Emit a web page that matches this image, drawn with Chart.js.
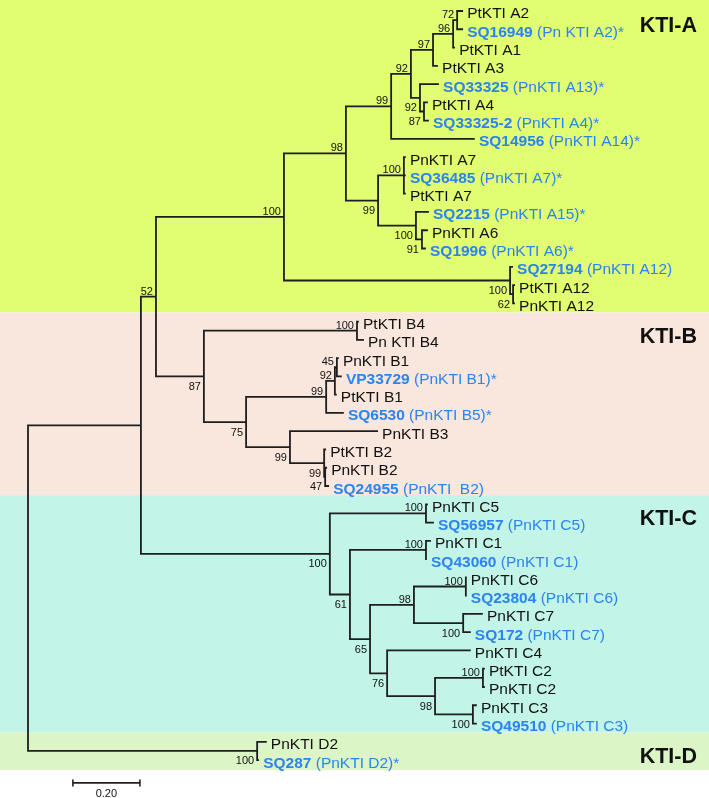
<!DOCTYPE html>
<html>
<head>
<meta charset="utf-8">
<script src="https://cdn.jsdelivr.net/npm/chart.js@4.4.1/dist/chart.umd.min.js"></script>
<style>
html, body { margin: 0; padding: 0; background: #fff; }
#wrap { width: 709px; height: 798px; position: relative; }
</style>
</head>
<body>
<div id="wrap"><canvas id="tree"></canvas></div>
<script>
// leaves, top to bottom
const leafLabels = [
    'PtKTI A2', 'SQ16949 (Pn KTI A2)*', 'PtKTI A1', 'PtKTI A3', 'SQ33325 (PnKTI A13)*',
    'PtKTI A4', 'SQ33325-2 (PnKTI A4)*', 'SQ14956 (PnKTI A14)*', 'PnKTI A7', 'SQ36485 (PnKTI A7)*',
    'PtKTI A7', 'SQ2215 (PnKTI A15)*', 'PnKTI A6', 'SQ1996 (PnKTI A6)*', 'SQ27194 (PnKTI A12)',
    'PtKTI A12', 'PnKTI A12',
    'PtKTI B4', 'Pn KTI B4', 'PnKTI B1', 'VP33729 (PnKTI B1)*', 'PtKTI B1', 'SQ6530 (PnKTI B5)*',
    'PnKTI B3', 'PtKTI B2', 'PnKTI B2', 'SQ24955 (PnKTI  B2)',
    'PnKTI C5', 'SQ56957 (PnKTI C5)', 'PnKTI C1', 'SQ43060 (PnKTI C1)', 'PnKTI C6', 'SQ23804 (PnKTI C6)',
    'PnKTI C7', 'SQ172 (PnKTI C7)', 'PnKTI C4', 'PtKTI C2', 'PnKTI C2', 'PnKTI C3', 'SQ49510 (PnKTI C3)',
    'PnKTI D2', 'SQ287 (PnKTI D2)*'
];
// internal node each leaf hangs from
const leafParent = [9, 9, 8, 7, 10, 11, 11, 5, 13, 13, 13, 14, 15, 15, 16, 17, 17,
    19, 19, 23, 23, 22, 21, 24, 25, 26, 26,
    28, 28, 30, 30, 33, 33, 34, 34, 35, 37, 37, 38, 38, 39, 39];
// distance of each tip from the root
const leafDist = [1.296, 1.296, 1.272, 1.221, 1.224, 1.191, 1.194, 1.331, 1.125, 1.125,
    1.125, 1.194, 1.191, 1.185, 1.445, 1.451, 1.451,
    0.985, 1.000, 0.925, 0.934, 0.919, 0.940, 1.042, 0.887, 0.890, 0.896,
    1.191, 1.209, 1.200, 1.188, 1.307, 1.307, 1.355, 1.319, 1.319, 1.361, 1.361, 1.337, 1.337,
    0.710, 0.687];

// internal nodes (0 = root)
const nodeParent = [-1, 0, 1, 2, 3, 4, 5, 6, 7, 8, 6, 10, 4, 12, 12, 14, 3, 16, 2, 18,
    18, 20, 21, 22, 20, 24, 25, 1, 27, 27, 29, 29, 31, 32, 32, 31, 35, 36, 36, 0];
const nodeDist = [0, 0.337, 0.382, 0.764, 0.949, 1.084, 1.143, 1.209, 1.269, 1.281,
    1.170, 1.182, 1.045, 1.122, 1.158, 1.176, 1.439, 1.448, 0.525, 0.982,
    0.651, 0.890, 0.916, 0.922, 0.782, 0.884, 0.887, 0.901, 1.188, 0.961,
    1.188, 1.021, 1.152, 1.307, 1.299, 1.072, 1.215, 1.358, 1.328, 0.684];
// bootstrap values
const nodeSupport = [null, null, 52, 100, 98, 99, 92, 97, 96, 72,
    92, 87, 99, 100, 100, 91, 100, 62, 87, 100,
    75, 99, 92, 45, 99, 99, 47, 100, 100, 61,
    100, 65, 98, 100, 100, 76, 98, 100, 100, 100];

// clades
const groupNames = ['KTI-A', 'KTI-B', 'KTI-C', 'KTI-D'];
const groupFirstLeaf = [0, 17, 27, 40];
const groupLastLeaf = [16, 26, 39, 41];
const groupColors = ['#e1fd72', '#f9e6dc', '#c3f4e8', '#dcf5c6'];

const scaleBarLength = 0.20;

// y of internal nodes = middle of their children
const nodeY = new Array(nodeParent.length).fill(null);
function childYs(n) {
    const ys = [];
    leafParent.forEach((p, i) => { if (p === n) ys.push(i); });
    nodeParent.forEach((p, j) => { if (p === n) ys.push(getNodeY(j)); });
    return ys;
}
function getNodeY(n) {
    if (nodeY[n] === null) {
        const ys = childYs(n);
        nodeY[n] = (Math.min(...ys) + Math.max(...ys)) / 2;
    }
    return nodeY[n];
}
nodeParent.forEach((p, n) => getNodeY(n));

// branches as one line dataset with gaps
const branchPoints = [];
function addSegment(x1, y1, x2, y2) {
    branchPoints.push({ x: x1, y: y1 }, { x: x2, y: y2 }, { x: null, y: null });
}
nodeParent.forEach((p, n) => {
    const ys = childYs(n);
    addSegment(nodeDist[n], Math.min(...ys), nodeDist[n], Math.max(...ys));
});
nodeParent.forEach((p, n) => {
    if (p >= 0) addSegment(nodeDist[p], nodeY[n], nodeDist[n], nodeY[n]);
});
leafParent.forEach((p, i) => {
    addSegment(nodeDist[p], i, leafDist[i], i);
});

const FONT = '"Liberation Sans", Arial, Helvetica, sans-serif';
const BLUE = '#2b84f0';

const treeDecor = {
    id: 'treeDecor',
    beforeDatasetsDraw(chart) {
        const ctx = chart.ctx;
        const ys = chart.scales.y;
        ctx.save();
        groupNames.forEach((g, k) => {
            const top = k === 0 ? chart.chartArea.top : ys.getPixelForValue(groupFirstLeaf[k] - 0.5);
            const bottom = ys.getPixelForValue(groupLastLeaf[k] + (k === groupNames.length - 1 ? 0.55 : 0.5));
            ctx.fillStyle = groupColors[k];
            ctx.fillRect(chart.chartArea.left, top, chart.chartArea.right - chart.chartArea.left, bottom - top);
        });
        ctx.restore();
    },
    afterDatasetsDraw(chart) {
        const ctx = chart.ctx;
        const xs = chart.scales.x, ys = chart.scales.y;
        ctx.save();

        // leaf names
        ctx.textBaseline = 'alphabetic';
        ctx.textAlign = 'left';
        leafLabels.forEach((label, i) => {
            let x = xs.getPixelForValue(leafDist[i]) + 5;
            const y = ys.getPixelForValue(i) + 7.5;
            if (/^(SQ|VP)/.test(label)) {
                const cut = label.indexOf(' ');
                const id = label.slice(0, cut);
                const rest = label.slice(cut);
                ctx.fillStyle = BLUE;
                ctx.font = 'bold 15.5px ' + FONT;
                ctx.fillText(id, x, y);
                x += ctx.measureText(id).width;
                ctx.font = '15.5px ' + FONT;
                ctx.fillText(rest, x, y);
            } else {
                ctx.fillStyle = '#111';
                ctx.font = '15.5px ' + FONT;
                ctx.fillText(label, x, y);
            }
        });

        // bootstrap values
        ctx.font = '11px ' + FONT;
        ctx.fillStyle = '#111';
        ctx.textAlign = 'right';
        nodeSupport.forEach((s, n) => {
            if (s === null) return;
            const p = nodeParent[n];
            const x = xs.getPixelForValue(nodeDist[n]) - 3;
            const y = ys.getPixelForValue(nodeY[n]);
            const above = nodeY[n] < nodeY[p];
            ctx.fillText(String(s), x, above ? y - 2 : y + 13.5);
        });

        // clade names
        ctx.font = 'bold 21.5px ' + FONT;
        ctx.fillStyle = '#111';
        groupNames.forEach((g, k) => {
            const y = ys.getPixelForValue(groupFirstLeaf[k] + 0.75) + 7.5;
            ctx.fillText(g, chart.chartArea.right - 12, y);
        });

        // scale bar
        const sx0 = xs.getPixelForValue(0.134);
        const sx1 = xs.getPixelForValue(0.134 + scaleBarLength);
        const sy = ys.getPixelForValue(42.25);
        ctx.strokeStyle = '#222';
        ctx.lineWidth = 1.6;
        ctx.beginPath();
        ctx.moveTo(sx0, sy); ctx.lineTo(sx1, sy);
        ctx.moveTo(sx0, sy - 3.5); ctx.lineTo(sx0, sy + 3.5);
        ctx.moveTo(sx1, sy - 3.5); ctx.lineTo(sx1, sy + 3.5);
        ctx.stroke();
        ctx.font = '11px ' + FONT;
        ctx.textAlign = 'center';
        ctx.fillText(scaleBarLength.toFixed(2), (sx0 + sx1) / 2, sy + 14.5);

        ctx.restore();
    }
};

new Chart(document.getElementById('tree').getContext('2d'), {
    type: 'scatter',
    data: {
        datasets: [{
            data: branchPoints,
            showLine: true,
            spanGaps: false,
            borderColor: '#1e1e1e',
            borderWidth: 1.8,
            borderCapStyle: 'square',
            pointRadius: 0,
            pointHoverRadius: 0,
            tension: 0
        }]
    },
    options: {
        responsive: true,
        maintainAspectRatio: false,
        animation: false,
        layout: { padding: 0 },
        events: [],
        scales: {
            x: { type: 'linear', display: false, min: -0.0836, max: 2.0328 },
            y: { type: 'linear', display: false, reverse: true, min: -0.602, max: 43.076 }
        },
        plugins: {
            legend: { display: false },
            tooltip: { enabled: false }
        }
    },
    plugins: [treeDecor]
});
</script>
</body>
</html>
